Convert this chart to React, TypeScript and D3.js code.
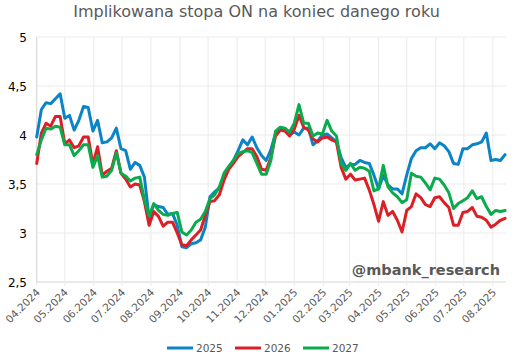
import React from 'react';
import * as d3 from 'd3';

const startDate = new Date(2024, 3, 1);
const endDate = new Date(2025, 7, 15);
const stepDays = 5;

const series2025 = [
  3.98, 4.26, 4.33, 4.32, 4.37, 4.42, 4.17, 4.20, 4.05, 4.15,
  4.29, 4.28, 4.04, 4.15, 3.92, 3.93, 3.97, 4.07, 3.86, 3.84,
  3.65, 3.72, 3.69, 3.57, 3.15, 3.29, 3.27, 3.26, 3.19, 3.20,
  3.08, 2.86, 2.85, 2.89, 2.90, 2.93, 3.06, 3.37, 3.42, 3.46,
  3.59, 3.67, 3.74, 3.84, 3.95, 3.90, 3.98, 3.87, 3.79, 3.74,
  3.85, 4.02, 4.07, 4.05, 4.00, 4.03, 4.00, 4.07, 4.07, 3.90,
  3.94, 4.00, 4.01, 3.97, 3.93, 3.77, 3.67, 3.70, 3.70, 3.74,
  3.72, 3.71, 3.59, 3.45, 3.59, 3.49, 3.45, 3.45, 3.40, 3.59,
  3.76, 3.84, 3.87, 3.87, 3.91, 3.86, 3.92, 3.89, 3.83, 3.71,
  3.70, 3.86, 3.86, 3.90, 3.91, 3.93, 4.02, 3.74, 3.75, 3.74,
  3.80,
];

const series2026 = [
  3.71, 4.02, 4.12, 4.09, 4.19, 4.19, 3.91, 3.95, 3.87, 3.89,
  3.98, 3.98, 3.70, 3.88, 3.59, 3.63, 3.66, 3.84, 3.61, 3.55,
  3.47, 3.50, 3.49, 3.32, 3.08, 3.22, 3.17, 3.07, 3.11, 3.11,
  3.00, 2.88, 2.87, 2.93, 2.98, 3.03, 3.18, 3.32, 3.33, 3.39,
  3.54, 3.65, 3.71, 3.78, 3.82, 3.86, 3.86, 3.78, 3.65, 3.64,
  3.77, 3.99, 4.05, 4.04, 3.99, 4.06, 4.20, 4.08, 4.05, 3.96,
  3.93, 3.97, 3.98, 3.95, 3.93, 3.67, 3.55, 3.60, 3.54, 3.55,
  3.56, 3.44, 3.29, 3.12, 3.32, 3.18, 3.22, 3.13, 3.01, 3.23,
  3.27, 3.40, 3.36, 3.29, 3.27, 3.36, 3.37, 3.31, 3.26, 3.08,
  3.08, 3.21, 3.22, 3.26, 3.17, 3.16, 3.13, 3.06, 3.09, 3.13,
  3.15,
];

const series2027 = [
  3.80, 3.95, 4.07, 4.06, 4.09, 4.08, 3.90, 3.90, 3.79, 3.84,
  3.90, 3.90, 3.67, 3.79, 3.57, 3.58, 3.64, 3.82, 3.61, 3.58,
  3.53, 3.56, 3.57, 3.34, 3.17, 3.30, 3.23, 3.19, 3.18, 3.20,
  3.21, 3.01, 2.98, 3.03, 3.11, 3.14, 3.22, 3.35, 3.39, 3.47,
  3.61, 3.68, 3.74, 3.81, 3.83, 3.84, 3.82, 3.71, 3.60, 3.60,
  3.74, 4.04, 4.08, 4.07, 4.03, 4.12, 4.31, 4.12, 4.12, 3.99,
  4.02, 4.01, 4.15, 4.04, 3.99, 3.71, 3.64, 3.71, 3.64, 3.67,
  3.66, 3.63, 3.43, 3.45, 3.69, 3.47, 3.41, 3.37, 3.31, 3.34,
  3.61, 3.58, 3.57, 3.51, 3.44, 3.56, 3.55, 3.49, 3.41, 3.25,
  3.30, 3.33, 3.36, 3.43, 3.35, 3.37, 3.27, 3.19, 3.23, 3.22,
  3.23,
];

const seriesNames = ['2025', '2026', '2027'];
const seriesColors = ['#0a84c6', '#dc1f26', '#0bab4d'];
const yTicks = [2.5, 3, 3.5, 4, 4.5, 5];

const W = 513;
const H = 359;
const margin = { top: 37, right: 7, bottom: 77, left: 36.7 };

const fmtY = (v: number) => String(v).replace('.', ',');
const fmtX = d3.timeFormat('%m.%Y');

export default function App() {
  const dates = d3.range(series2025.length).map(i => d3.timeDay.offset(startDate, i * stepDays));
  const allSeries = [series2025, series2026, series2027];

  const x = d3.scaleTime().domain([startDate, endDate]).range([margin.left, W - margin.right]);
  const y = d3.scaleLinear().domain([2.5, 5]).range([H - margin.bottom, margin.top]);
  const months = d3.timeMonth.range(startDate, endDate);

  const line = d3.line<number>()
    .x((_, i) => x(dates[i]))
    .y(d => y(d))
    .curve(d3.curveLinear);

  const font = '"DejaVu Sans", Verdana, sans-serif';
  const legendX = [167, 235, 303];

  return (
    <svg width={W} height={H} style={{ position: 'absolute', left: 0, top: 0, background: '#fff' }} fontFamily={font}>
      <text x={W / 2} y={17} textAnchor="middle" fontSize={16} fill="#595959">
        Implikowana stopa ON na koniec danego roku
      </text>

      {/* gridlines */}
      {yTicks.map(t => (
        <line key={'gy' + t} x1={margin.left} x2={W - margin.right} y1={y(t)} y2={y(t)}
          stroke={t === 2.5 ? '#d4d4d4' : '#ebebeb'} strokeWidth={1} />
      ))}
      {months.map(m => (
        <line key={'gx' + m.getTime()} x1={x(m)} x2={x(m)} y1={margin.top} y2={y(2.5) + 4}
          stroke="#ebebeb" strokeWidth={1} />
      ))}
      <line x1={margin.left} x2={margin.left} y1={margin.top} y2={y(2.5)} stroke="#d9d9d9" />

      {/* y labels */}
      {yTicks.map(t => (
        <text key={'ly' + t} x={27} y={y(t) + 4.5} textAnchor="end" fontSize={12} fill="#000">
          {fmtY(t)}
        </text>
      ))}

      {/* x labels */}
      {months.map(m => (
        <text key={'lx' + m.getTime()} transform={`translate(${x(m) + 4},${y(2.5) + 11}) rotate(-45)`}
          textAnchor="end" fontSize={10.5} fill="#595959">
          {fmtX(m)}
        </text>
      ))}

      {/* series */}
      {allSeries.map((s, i) => (
        <path key={seriesNames[i]} d={line(s) || ''} fill="none" stroke={seriesColors[i]}
          strokeWidth={3} strokeLinejoin="round" strokeLinecap="round" />
      ))}

      <text x={500} y={275} textAnchor="end" fontSize={14.5} fontWeight="bold" fill="#595959">
        @mbank_research
      </text>

      {/* legend */}
      {seriesNames.map((n, i) => (
        <g key={'lg' + n}>
          <line x1={legendX[i]} x2={legendX[i] + 26} y1={348} y2={348} stroke={seriesColors[i]} strokeWidth={3} />
          <text x={legendX[i] + 29} y={352} fontSize={10.5} fill="#595959">{n}</text>
        </g>
      ))}
    </svg>
  );
}
